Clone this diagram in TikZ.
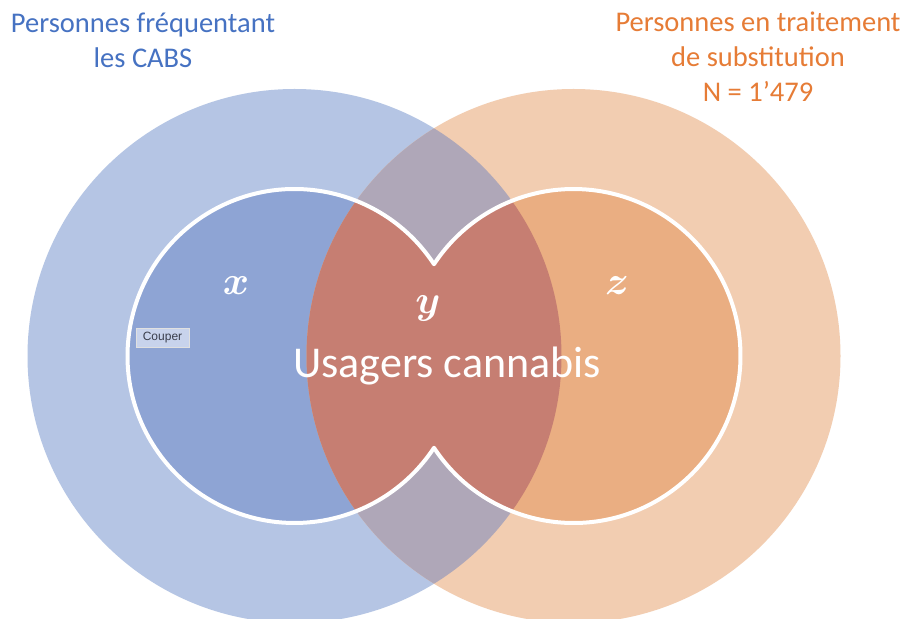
\documentclass[tikz,border=0pt]{standalone}
\usepackage{fix-cm}
\usepackage{fontspec}
\setmainfont{Carlito}
\newfontfamily\uifont{Liberation Sans}
\definecolor{bigblue}{HTML}{B5C5E4}
\definecolor{bigorange}{HTML}{F2CDB1}
\definecolor{lensgray}{HTML}{AFA7B8}
\definecolor{innerblue}{HTML}{8EA4D4}
\definecolor{innerorange}{HTML}{EAAE82}
\definecolor{innerred}{HTML}{C67E72}
\definecolor{titleblue}{HTML}{4672C2}
\definecolor{titleorange}{HTML}{E67C36}
\definecolor{tipfill}{HTML}{C8D3EC}
\definecolor{tiptext}{HTML}{3A3E4C}
\tikzset{
  titletext/.style={align=center, font=\fontsize{28.5}{35}\selectfont, inner sep=0pt},
  varlabel/.style={text=white, font=\fontsize{40}{40}\selectfont\boldmath, inner sep=0pt},
  maintext/.style={text=white, font=\fontsize{44}{44}\selectfont, inner sep=0pt},
  tipbox/.style={fill=tipfill, draw=black!12, line width=0.4pt, text=tiptext,
    font=\uifont\fontsize{12}{12}\selectfont, minimum width=53pt, minimum height=19pt, inner sep=0pt}
}
\begin{document}
\begin{tikzpicture}[x=1pt,y=1pt]
\useasboundingbox (0,0) rectangle (906,619);
\clip (0,0) rectangle (906,619);
\fill[white] (0,0) rectangle (906,619);
\coordinate (L) at (294.5,263);
\coordinate (R) at (573.5,263);
\def\bigpathL{(L) circle[radius=267pt]}
\def\bigpathR{(R) circle[radius=267pt]}
% big circles
\fill[bigblue] \bigpathL;
\fill[bigorange] \bigpathR;
\begin{scope}
  \clip \bigpathL;
  \fill[lensgray] \bigpathR;
\end{scope}
% inner union region
\def\unionpath{(434,354.8) arc[start angle=33.35, end angle=326.65, radius=167pt]
   arc[start angle=213.35, end angle=506.65, radius=167pt] -- cycle}
\begin{scope}
  \clip \unionpath;
  \fill[innerblue] \bigpathL;
  \fill[innerorange] \bigpathR;
  \clip \bigpathL;
  \fill[innerred] \bigpathR;
\end{scope}
\draw[white, line width=4pt, line join=round] \unionpath;
% titles
\node[titletext, text=titleblue] (tl) at (143,579) {Personnes fréquentant\\les CABS};
\node[titletext, text=titleorange] (tr) at (758,562) {Personnes en traitement\\de substitution\\N = 1’479};
% labels
\node[varlabel] (vx) at (236,333) {$x$};
\node[varlabel] (vy) at (428,310) {$y$};
\node[varlabel] (vz) at (617,333) {$z$};
\node[maintext, anchor=base] (uc) at (447,241) {Usagers cannabis};
\node[tipbox] (cp) at (162.5,281.5) {Couper};
\end{tikzpicture}
\end{document}
